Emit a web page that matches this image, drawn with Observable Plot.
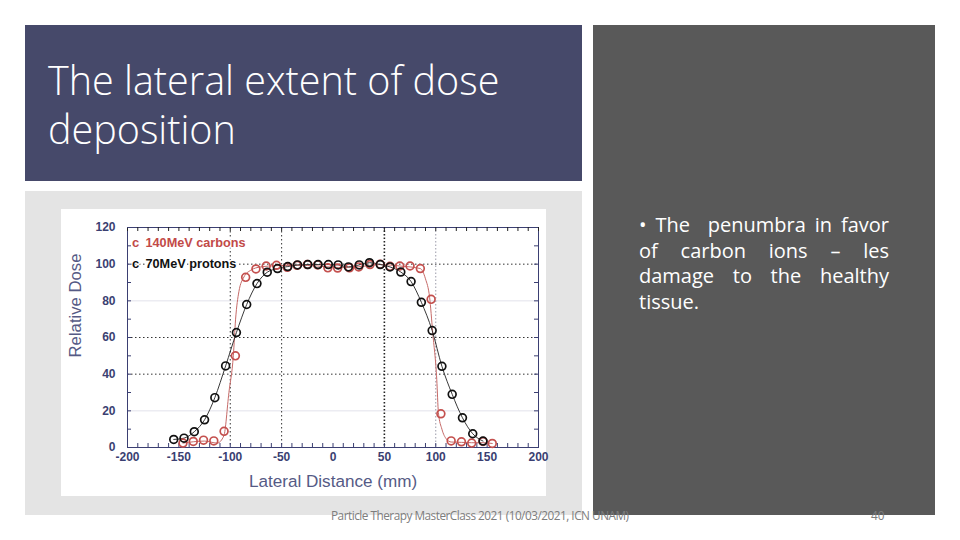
<!DOCTYPE html>
<html><head><meta charset="utf-8">
<script src="https://cdn.jsdelivr.net/npm/d3@7"></script>
<script src="https://cdn.jsdelivr.net/npm/@observablehq/plot@0.6"></script>
<style>
html,body{margin:0;padding:0;background:#fff;width:960px;height:540px;overflow:hidden}
.abs{position:absolute}
#title{left:25px;top:25px;width:557px;height:156px;background:#46496a}
#title h1{position:absolute;left:23px;top:31px;margin:0;width:510px;color:#fff;font:300 39.5px/48.5px "Open Sans",sans-serif}
#panel{left:25px;top:191px;width:557px;height:324px;background:#e4e4e4}
#side{left:593px;top:25px;width:342px;height:490px;background:#595959}
#body{left:639px;top:212px;width:250px;color:#fff;font:400 20px/25.7px "Open Sans",sans-serif;margin:0}
#body div{text-align:justify;text-align-last:justify;white-space:nowrap}
#body div:last-child{text-align-last:left}
#foot{left:331px;top:507px;color:#7d7d7d;font:400 11.8px/16px "Open Sans",sans-serif;white-space:nowrap;letter-spacing:-.5px}
#num{left:871px;top:507px;color:#7d7d7d;font:400 11.8px/16px "Open Sans",sans-serif}
#chart{left:61px;top:209px;width:485px;height:287px;background:#fff}
#chart svg{display:block}
</style></head><body>
<div class="abs" id="title"><h1>The lateral extent of dose deposition</h1></div>
<div class="abs" id="panel"></div>
<div class="abs" id="side"></div>
<div class="abs" id="chart"></div>
<div class="abs" id="body"><div>• The &nbsp;penumbra in favor</div><div>of carbon ions – les</div><div>damage to the healthy</div><div>tissue.</div></div>
<div class="abs" id="foot">Particle Therapy MasterClass 2021 (10/03/2021, ICN UNAM)</div>
<div class="abs" id="num">40</div>
<script>
const carbonX = [-146,-136,-126,-116,-106,-95,-85,-75,-65,-55,-44.5,-35,-25,-15,-5,4.5,16,25,36,46,55.5,65,75,85,95.5,105,115,125,135,146,155];
const carbonY = [2.4,3.3,4,3.6,8.8,50,92.8,97.4,99,99.4,98.3,99.4,99.8,99.6,98,97.9,98,98.5,99.8,100,98.8,99,99,97.6,80.8,18.4,3.6,3.1,2.4,3.3,2.2];
const carbonFitX = [-146,-125,-112.7,-106.2,-101.3,-97,-94.8,-91.6,-86.7,-80,-70.5,-55,-35,-15,5,25,46,65,85,90,94,97,101,102.6,106,110.4,115,125,135,146,155];
const carbonFitY = [2.4,3.5,2.4,6.4,30,50,70,85,93,96.7,98.5,99.2,99.4,99,98.2,98.6,99.8,99,97.6,92,82,63,37,19,10,4.6,3,2.8,2.6,2.6,2.2];
const protonX = [-155,-145,-135,-125,-115,-104.5,-94,-84,-74,-64,-54,-44,-34.5,-24.5,-14.5,-4.5,5,15,25.5,35.5,46,55.5,66,76,86,96.5,106,116,126,136,146];
const protonY = [4.4,5.1,8.6,15.1,27.2,44.5,62.7,78,89.4,95.6,97.6,98.7,99.6,99.8,99.8,99.8,99.6,98.5,99.6,100.8,99.8,98.5,95.7,90.5,79.2,63.8,44.3,29,16.2,7.5,3.5];
const xLabels = [-200,-150,-100,-50,0,50,100,150,200];
const yLabels = [0,20,40,60,80,100,120];
const xMinor = d3.range(-200,201,10);
const yMinor = d3.range(0,121,10);
const darkGridY = [100,60,40];
const faintGridY = [80,20];
const darkGridX = [-100,-50];
const boldGridX = [50];
const paleGridX = [100];
const legendNames = ["140MeV carbons","70MeV protons"];
const legendColors = ["#c24a48","#111111"];
const legendY = [111.4,100];
const xTitle = ["Lateral Distance (mm)"];
const yTitle = ["Relative Dose"];
const navy = "#3b3f72";
const red = "#c4504e";
const chart = Plot.plot({
  width:485,height:287,
  marginLeft:66,marginRight:8,marginTop:18,marginBottom:49,
  style:{background:"#fff",fontFamily:"Liberation Sans, Arial, sans-serif",overflow:"visible"},
  x:{domain:[-200,200]},
  y:{domain:[0,120]},
  marks:[
    Plot.ruleY(faintGridY,{stroke:"#ececf2",strokeWidth:1.5}),
    Plot.ruleY(darkGridY,{stroke:"#333",strokeWidth:1,strokeDasharray:"1.5,2.5"}),
    Plot.ruleX(darkGridX,{stroke:"#333",strokeWidth:1,strokeDasharray:"1.5,2.5"}),
    Plot.ruleX(boldGridX,{stroke:"#222",strokeWidth:1.6,strokeDasharray:"1.5,2"}),
    Plot.ruleX(paleGridX,{stroke:"#9a9aa8",strokeWidth:1,strokeDasharray:"1.5,2"}),
    Plot.frame({stroke:navy,strokeWidth:1}),
    Plot.tickX(xMinor,{x:d=>d,insetTop:216,stroke:navy}),
    Plot.tickX(xMinor,{x:d=>d,insetBottom:216,stroke:"#222"}),
    Plot.tickY(yMinor,{y:d=>d,insetRight:407,stroke:navy}),
    Plot.tickY(yMinor,{y:d=>d,insetLeft:407,stroke:navy}),
    Plot.axisX({anchor:"bottom",ticks:xLabels,tickSize:0,tickPadding:5,fontSize:12,fontWeight:"bold",fill:navy,
      label:null,tickFormat:d=>String(d)}),
    Plot.axisY({anchor:"left",ticks:yLabels,tickSize:0,tickPadding:12,fontSize:12,fontWeight:"bold",fill:navy,
      label:null,tickFormat:d=>String(d)}),
    Plot.text(xTitle,{frameAnchor:"bottom",dy:39,fontSize:17.1,fill:"#555a85",text:d=>d}),
    Plot.text(yTitle,{frameAnchor:"left",textAnchor:"middle",rotate:-90,dx:-52,dy:-32,fontSize:16.7,fill:"#555a85",text:d=>d}),
    Plot.line(carbonFitX.map((x,i)=>({x,y:carbonFitY[i]})),{x:"x",y:"y",stroke:"#c66a68",strokeWidth:1,curve:"monotone-x"}),
    Plot.line(protonX.map((x,i)=>({x,y:protonY[i]})),{x:"x",y:"y",stroke:"#222",strokeWidth:.9,curve:"monotone-x"}),
    Plot.dot(carbonX.map((x,i)=>({x,y:carbonY[i]})),{x:"x",y:"y",r:3.9,stroke:red,strokeWidth:1.7,fill:"none"}),
    Plot.dot(protonX.map((x,i)=>({x,y:protonY[i]})),{x:"x",y:"y",r:3.9,stroke:"#111",strokeWidth:1.7,fill:"none"}),
    Plot.text(legendNames,{x:()=>-182.5,y:(d,i)=>legendY[i],text:d=>d,fill:(d,i)=>legendColors[i],stroke:"#fff",strokeWidth:3,textAnchor:"start",fontSize:12.7,fontWeight:"bold"}),
    Plot.text(legendNames,{x:()=>-192,y:(d,i)=>legendY[i],text:()=>"c",fill:(d,i)=>legendColors[i],stroke:"#fff",strokeWidth:2,textAnchor:"middle",fontSize:13,fontWeight:"bold"})
  ]
});
document.getElementById("chart").appendChild(chart);
</script>
</body></html>
